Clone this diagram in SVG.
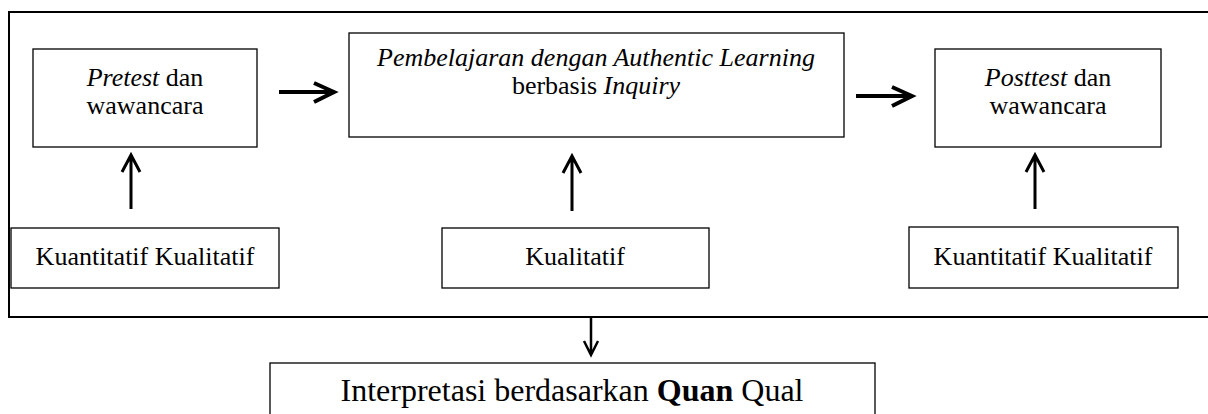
<svg xmlns="http://www.w3.org/2000/svg" width="1208" height="414" viewBox="0 0 1208 414">
<style>
.box{fill:#fff;stroke:#000;stroke-width:1.3}
.t{font-family:"Liberation Serif","Times New Roman",serif;font-size:26px;fill:#000;text-anchor:middle}
.i{font-style:italic}
.b{font-weight:bold}
.ar{fill:none;stroke:#000;stroke-linecap:butt;stroke-linejoin:miter}
</style>
<rect width="1208" height="414" fill="#fff"/>
<g id="frame"><rect x="9" y="12" width="1210" height="305" fill="none" stroke="#000" stroke-width="2"/></g>
<g id="pretest"><rect class="box" x="33" y="49" width="224" height="98"/><text class="t" x="145" y="86"><tspan class="i">Pretest</tspan> dan</text><text class="t" x="145" y="114">wawancara</text></g>
<g id="pembelajaran"><rect class="box" x="349" y="33" width="495" height="104"/><text class="t" x="596" y="66"><tspan class="i">Pembelajaran dengan Authentic Learning</tspan></text><text class="t" x="596" y="94">berbasis <tspan class="i">Inquiry</tspan></text></g>
<g id="posttest"><rect class="box" x="935" y="49" width="226" height="98"/><text class="t" x="1048" y="86"><tspan class="i">Posttest</tspan> dan</text><text class="t" x="1048" y="114">wawancara</text></g>
<g id="kk1"><rect class="box" x="11" y="228" width="268" height="60"/><text class="t" x="145" y="265">Kuantitatif Kualitatif</text></g>
<g id="kual"><rect class="box" x="442" y="228" width="267" height="60"/><text class="t" x="575" y="265">Kualitatif</text></g>
<g id="kk2"><rect class="box" x="909" y="227" width="269" height="61"/><text class="t" x="1043" y="265">Kuantitatif Kualitatif</text></g>
<g id="interpretasi"><rect class="box" x="270" y="363" width="605" height="60"/><text class="t" x="572" y="401" style="font-size:32px">Interpretasi berdasarkan <tspan class="b">Quan</tspan> Qual</text></g>
<g id="connectors" class="ar">
<path d="M279 92H333M314 83L334 92L314 102" stroke-width="4"/>
<path d="M856 96H911M892 87L912 96L892 106" stroke-width="4"/>
<path d="M131 209V155M122 172L131 155L140 172" stroke-width="3"/>
<path d="M572 211V156M563 173L572 156L581 173" stroke-width="3"/>
<path d="M1035 209V155M1026 172L1035 155L1044 172" stroke-width="3"/>
<path d="M591 318V355M584 341L591 355L598 341" stroke-width="2.5"/>
</g>
</svg>
